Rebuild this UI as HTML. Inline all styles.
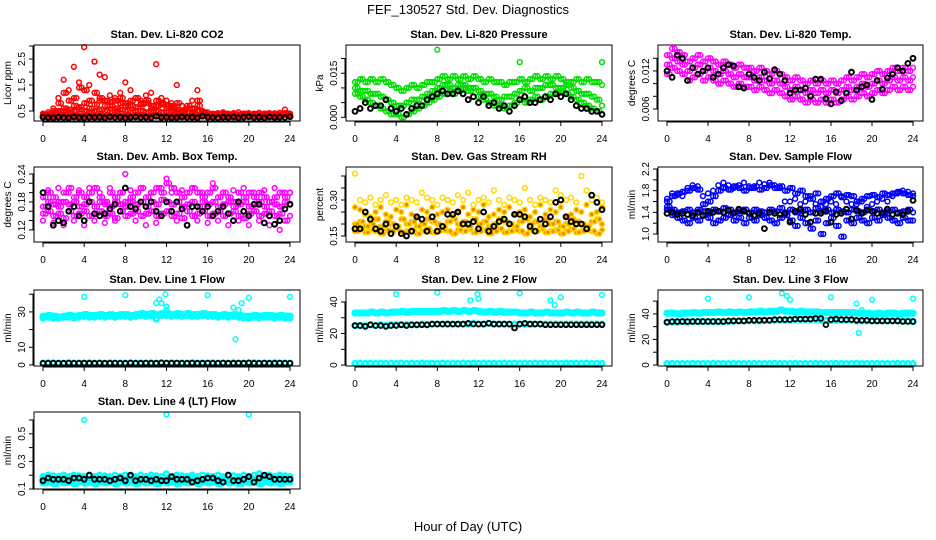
<!DOCTYPE html>
<html><head><meta charset="utf-8"><style>
html,body{margin:0;padding:0;background:#fff;}
svg{display:block;font-family:"Liberation Sans",sans-serif;}
</style></head><body>
<svg id="chart" width="936" height="540" viewBox="0 0 936 540" xmlns="http://www.w3.org/2000/svg">
<text x="468" y="14" text-anchor="middle" font-size="13">FEF_130527  Std. Dev. Diagnostics</text>
<text x="468" y="531" text-anchor="middle" font-size="13">Hour of Day (UTC)</text>
</svg>
<script>
const hours = [0,0.5,1,1.5,2,2.5,3,3.5,4,4.5,5,5.5,6,6.5,7,7.5,8,8.5,9,9.5,10,10.5,11,11.5,12,12.5,13,13.5,14,14.5,15,15.5,16,16.5,17,17.5,18,18.5,19,19.5,20,20.5,21,21.5,22,22.5,23,23.5,24];
const hoursOff = [0.25,0.75,1.25,1.75,2.25,2.75,3.25,3.75,4.25,4.75,5.25,5.75,6.25,6.75,7.25,7.75,8.25,8.75,9.25,9.75,10.25,10.75,11.25,11.75,12.25,12.75,13.25,13.75,14.25,14.75,15.25,15.75,16.25,16.75,17.25,17.75,18.25,18.75,19.25,19.75,20.25,20.75,21.25,21.75,22.25,22.75,23.25,23.75];
const xTicks = [0,4,8,12,16,20,24];

const co2A = [0.3,0.32,0.3,0.31,0.33,0.3,0.32,0.3,0.31,0.33,0.3,0.32,0.3,0.31,0.33,0.3,0.32,0.3,0.31,0.33,0.3,0.32,0.3,0.31,0.33,0.3,0.32,0.3,0.31,0.33,0.3,0.32,0.3,0.31,0.33,0.3,0.32,0.3,0.31,0.33,0.3,0.32,0.3,0.31,0.33,0.3,0.32,0.35,0.3];
const co2B = [0.35,0.38,0.42,0.5,0.6,0.55,0.7,0.65,0.8,0.6,0.75,0.9,0.7,0.85,0.6,0.8,0.7,0.9,0.65,0.75,0.8,0.6,0.7,0.75,0.6,0.7,0.55,0.5,0.6,0.45,0.7,0.4,0.36,0.38,0.37,0.4,0.36,0.38,0.37,0.4,0.36,0.38,0.37,0.4,0.36,0.38,0.37,0.42,0.36];
const co2C = [0.4,0.45,0.6,1.0,1.7,1.3,2.2,1.6,2.96,1.5,2.4,1.9,1.8,1.1,1.0,1.2,1.6,1.3,1.0,0.9,1.1,1.2,2.3,1.0,0.9,0.8,1.5,0.7,0.6,0.9,1.3,0.5,0.45,0.4,0.42,0.45,0.4,0.42,0.45,0.4,0.42,0.4,0.43,0.4,0.42,0.41,0.43,0.55,0.4];
const co2D = [0.33,0.35,0.5,0.8,1.2,0.9,1.0,1.4,1.3,0.9,1.2,1.0,0.9,0.7,0.9,1.0,0.8,0.7,1.0,0.8,0.9,0.7,0.9,0.8,0.7,0.6,0.8,0.5,0.7,0.6,0.9,0.45,0.38,0.35,0.36,0.38,0.35,0.37,0.36,0.38,0.35,0.37,0.36,0.38,0.35,0.37,0.36,0.4,0.35];
const co2E = [0.32,0.34,0.4,0.45,0.5,0.45,0.5,0.55,0.5,0.45,0.5,0.55,0.5,0.45,0.5,0.55,0.5,0.45,0.5,0.5,0.45,0.5,0.5,0.45,0.45,0.5,0.45,0.42,0.45,0.4,0.5,0.36,0.33,0.34,0.33,0.34,0.33,0.34,0.33,0.34,0.33,0.34,0.33,0.34,0.33,0.34,0.33,0.36,0.33];
const co2Black = [0.26,0.25,0.24,0.26,0.25,0.24,0.27,0.25,0.24,0.26,0.25,0.26,0.24,0.27,0.25,0.26,0.24,0.25,0.27,0.25,0.26,0.24,0.3,0.25,0.26,0.24,0.25,0.27,0.25,0.26,0.24,0.3,0.26,0.25,0.24,0.26,0.25,0.27,0.24,0.26,0.28,0.25,0.26,0.24,0.27,0.25,0.26,0.25,0.28];

const presA = [0.012,0.013,0.012,0.013,0.012,0.013,0.012,0.011,0.010,0.009,0.010,0.011,0.010,0.011,0.012,0.012,0.013,0.014,0.013,0.014,0.013,0.014,0.013,0.014,0.013,0.012,0.013,0.012,0.012,0.011,0.012,0.012,0.013,0.012,0.013,0.014,0.013,0.014,0.013,0.014,0.013,0.012,0.012,0.013,0.012,0.013,0.012,0.012,0.011];
const presB = [0.008,0.007,0.006,0.005,0.004,0.003,0.002,0.001,0.001,0.000,0.001,0.002,0.003,0.004,0.005,0.006,0.007,0.008,0.009,0.008,0.009,0.010,0.009,0.010,0.007,0.006,0.005,0.004,0.004,0.003,0.004,0.005,0.006,0.005,0.006,0.007,0.006,0.007,0.008,0.008,0.009,0.008,0.007,0.006,0.005,0.004,0.003,0.002,0.001];
const presC = [0.010,0.009,0.009,0.008,0.008,0.007,0.006,0.005,0.004,0.004,0.005,0.006,0.006,0.007,0.008,0.009,0.010,0.011,0.011,0.010,0.011,0.011,0.010,0.010,0.009,0.008,0.008,0.007,0.006,0.007,0.007,0.008,0.009,0.010,0.009,0.010,0.010,0.011,0.011,0.010,0.010,0.011,0.010,0.009,0.008,0.008,0.007,0.006,0.004];
const presBlack = [0.002,0.003,0.005,0.003,0.004,0.004,0.006,0.003,0.002,0.003,0.001,0.003,0.004,0.004,0.006,0.007,0.008,0.009,0.008,0.008,0.009,0.008,0.006,0.007,0.005,0.007,0.004,0.005,0.003,0.004,0.002,0.004,0.006,0.007,0.005,0.005,0.006,0.007,0.006,0.008,0.007,0.008,0.006,0.004,0.003,0.003,0.002,0.002,0.001];
const presOutX = [8,16,24];
const presOutY = [0.023,0.0188,0.0188];

const tempA = [0.013,0.014,0.0135,0.013,0.012,0.0125,0.013,0.012,0.0125,0.012,0.0115,0.012,0.0115,0.011,0.0115,0.011,0.011,0.0105,0.011,0.0105,0.01,0.0105,0.01,0.0095,0.009,0.0095,0.009,0.0085,0.009,0.0085,0.009,0.0085,0.009,0.0085,0.009,0.0095,0.009,0.0095,0.01,0.0095,0.01,0.0105,0.01,0.0105,0.011,0.0105,0.011,0.0105,0.011];
const tempB = [0.0145,0.0155,0.015,0.0145,0.0135,0.014,0.0145,0.0135,0.014,0.0135,0.013,0.0135,0.013,0.0125,0.013,0.0125,0.0125,0.012,0.0125,0.012,0.0115,0.012,0.0115,0.011,0.0105,0.011,0.0105,0.01,0.0105,0.01,0.0105,0.01,0.0105,0.01,0.0105,0.011,0.0105,0.011,0.0115,0.011,0.0115,0.012,0.0115,0.012,0.0125,0.012,0.0125,0.012,0.0125];
const tempC = [0.0115,0.0125,0.012,0.0115,0.0105,0.011,0.0115,0.0105,0.011,0.0105,0.01,0.0105,0.01,0.0095,0.01,0.0095,0.0095,0.009,0.0095,0.009,0.0085,0.009,0.0085,0.008,0.0075,0.008,0.0075,0.007,0.0075,0.007,0.0075,0.007,0.0075,0.007,0.0075,0.008,0.0075,0.008,0.0085,0.008,0.0085,0.009,0.0085,0.009,0.0095,0.009,0.0095,0.009,0.0095];
const tempBlack = [0.012,0.011,0.0145,0.014,0.0105,0.0125,0.0115,0.012,0.0125,0.011,0.0115,0.0125,0.013,0.0128,0.0095,0.0093,0.0115,0.011,0.0105,0.0118,0.0108,0.0122,0.0115,0.0105,0.0085,0.009,0.009,0.0093,0.008,0.0107,0.0107,0.0076,0.0068,0.0087,0.0073,0.0085,0.0118,0.009,0.0095,0.0098,0.0075,0.0105,0.0091,0.0109,0.0115,0.0125,0.012,0.0132,0.014];

const ambA = [0.19,0.2,0.19,0.18,0.2,0.21,0.19,0.2,0.19,0.2,0.21,0.19,0.18,0.2,0.19,0.2,0.18,0.19,0.2,0.21,0.19,0.2,0.21,0.2,0.22,0.21,0.2,0.19,0.2,0.21,0.2,0.19,0.2,0.21,0.19,0.2,0.19,0.18,0.2,0.19,0.2,0.19,0.2,0.19,0.18,0.19,0.2,0.19,0.2];
const ambB = [0.17,0.18,0.175,0.17,0.18,0.175,0.18,0.17,0.175,0.18,0.17,0.18,0.175,0.17,0.18,0.175,0.17,0.18,0.175,0.18,0.17,0.18,0.175,0.185,0.18,0.175,0.18,0.17,0.175,0.18,0.17,0.18,0.175,0.18,0.17,0.175,0.18,0.17,0.175,0.18,0.17,0.175,0.18,0.17,0.18,0.175,0.17,0.18,0.175];
const ambC = [0.155,0.16,0.15,0.155,0.145,0.16,0.15,0.155,0.16,0.15,0.155,0.16,0.15,0.155,0.145,0.16,0.15,0.155,0.16,0.15,0.155,0.16,0.15,0.155,0.16,0.15,0.155,0.145,0.16,0.15,0.155,0.16,0.15,0.155,0.16,0.15,0.155,0.16,0.15,0.145,0.155,0.16,0.15,0.155,0.16,0.15,0.155,0.14,0.15];
const ambD = [0.14,0.205,0.135,0.21,0.13,0.2,0.14,0.205,0.13,0.21,0.14,0.2,0.135,0.21,0.14,0.2,0.24,0.205,0.14,0.21,0.13,0.2,0.135,0.21,0.23,0.2,0.14,0.205,0.13,0.21,0.14,0.2,0.135,0.22,0.14,0.2,0.13,0.205,0.14,0.21,0.13,0.2,0.14,0.205,0.13,0.21,0.12,0.2,0.2];
const ambBlack = [0.2,0.17,0.13,0.14,0.135,0.16,0.17,0.15,0.14,0.18,0.155,0.15,0.155,0.165,0.175,0.16,0.21,0.17,0.165,0.18,0.17,0.18,0.16,0.15,0.18,0.16,0.18,0.165,0.13,0.17,0.17,0.16,0.17,0.15,0.16,0.17,0.155,0.14,0.18,0.16,0.15,0.175,0.175,0.135,0.15,0.132,0.14,0.165,0.175];

const rhA = [0.17,0.18,0.165,0.175,0.17,0.16,0.175,0.17,0.18,0.165,0.17,0.175,0.16,0.17,0.18,0.165,0.17,0.175,0.17,0.16,0.175,0.17,0.18,0.165,0.17,0.175,0.16,0.17,0.18,0.165,0.17,0.175,0.17,0.16,0.175,0.17,0.18,0.165,0.17,0.175,0.16,0.17,0.18,0.165,0.17,0.175,0.17,0.16,0.175];
const rhB = [0.2,0.21,0.19,0.2,0.22,0.19,0.21,0.2,0.19,0.22,0.2,0.21,0.19,0.2,0.22,0.21,0.2,0.19,0.21,0.22,0.2,0.21,0.19,0.22,0.2,0.21,0.19,0.2,0.22,0.21,0.2,0.19,0.21,0.22,0.2,0.21,0.19,0.22,0.2,0.21,0.19,0.2,0.22,0.21,0.2,0.19,0.21,0.22,0.2];
const rhC = [0.27,0.26,0.24,0.23,0.25,0.27,0.24,0.23,0.26,0.25,0.28,0.24,0.23,0.26,0.25,0.27,0.24,0.25,0.26,0.23,0.25,0.27,0.24,0.26,0.25,0.28,0.23,0.24,0.26,0.25,0.27,0.24,0.25,0.26,0.23,0.25,0.28,0.24,0.26,0.25,0.27,0.23,0.24,0.26,0.25,0.28,0.24,0.25,0.27];
const rhD = [0.41,0.3,0.29,0.31,0.28,0.3,0.32,0.29,0.3,0.28,0.31,0.3,0.29,0.33,0.31,0.3,0.28,0.31,0.3,0.29,0.32,0.3,0.33,0.28,0.3,0.31,0.29,0.34,0.3,0.28,0.31,0.3,0.29,0.35,0.3,0.28,0.31,0.3,0.29,0.34,0.32,0.3,0.31,0.29,0.4,0.34,0.3,0.31,0.29];
const rhBlack = [0.18,0.18,0.25,0.22,0.18,0.17,0.2,0.16,0.19,0.16,0.15,0.17,0.23,0.22,0.17,0.23,0.17,0.19,0.24,0.24,0.25,0.2,0.2,0.21,0.18,0.25,0.17,0.19,0.21,0.22,0.2,0.24,0.24,0.23,0.19,0.17,0.22,0.2,0.23,0.29,0.3,0.23,0.21,0.2,0.2,0.18,0.32,0.29,0.26];

const flowA = [1.45,1.35,1.3,1.25,1.2,1.3,1.25,1.35,1.3,1.2,1.25,1.3,1.35,1.25,1.3,1.2,1.3,1.25,1.35,1.3,1.25,1.2,1.3,1.35,1.25,1.15,1.3,1.2,1.1,1.25,1.0,1.2,1.3,1.15,0.95,1.25,1.2,1.3,1.25,1.2,1.3,1.25,1.35,1.3,1.25,1.2,1.3,1.25,1.25];
const flowB = [1.5,1.45,1.4,1.42,1.45,1.4,1.45,1.42,1.4,1.45,1.42,1.48,1.45,1.4,1.42,1.45,1.4,1.45,1.42,1.4,1.45,1.42,1.48,1.4,1.45,1.4,1.42,1.45,1.4,1.48,1.42,1.45,1.4,1.45,1.42,1.4,1.45,1.42,1.4,1.45,1.42,1.45,1.4,1.42,1.45,1.4,1.42,1.45,1.4];
const flowC = [1.6,1.7,1.75,1.78,1.8,1.85,1.82,1.55,1.6,1.7,1.8,1.85,1.82,1.88,1.85,1.8,1.85,1.88,1.82,1.85,1.9,1.85,1.88,1.8,1.85,1.75,1.8,1.7,1.65,1.75,1.6,1.65,1.7,1.75,1.68,1.72,1.7,1.6,1.65,1.7,1.72,1.68,1.75,1.72,1.75,1.78,1.75,1.72,1.7];
const flowD = [1.65,1.75,1.72,1.7,1.85,1.9,1.88,1.7,1.75,1.8,1.9,1.95,1.9,1.85,1.9,1.95,1.88,1.85,1.95,1.92,1.95,1.9,1.85,1.6,1.6,1.65,1.55,1.6,1.7,1.55,1.5,1.55,1.6,1.55,1.7,1.6,1.55,1.55,1.6,1.5,1.55,1.6,1.65,1.6,1.7,1.75,1.8,1.78,1.75];
const flowBlack = [1.38,1.4,1.36,1.38,1.36,1.34,1.4,1.34,1.42,1.4,1.42,1.4,1.44,1.38,1.46,1.42,1.38,1.34,1.38,1.1,1.4,1.38,1.36,1.38,1.22,1.42,1.46,1.36,1.22,1.38,1.38,1.42,1.22,1.36,1.38,1.46,1.28,1.44,1.38,1.44,1.42,1.38,1.38,1.46,1.36,1.38,1.36,1.42,1.62];

const lineLow = [1,1.2,1,1.1,1,1.2,1,1.1,1,1.2,1,1.1,1,1.2,1,1.1,1,1.2,1,1.1,1,1.2,1,1.1,1,1.2,1,1.1,1,1.2,1,1.1,1,1.2,1,1.1,1,1.2,1,1.1,1,1.2,1,1.1,1,1.2,1,1.1,1];
const line1A = [27.5,28,27.5,27,27.5,28,27.5,28,28.5,28,28,28.5,28,28.5,28,28.5,28.5,28,28.5,29,28.5,29,28.5,29,29,28.5,29,28.5,29,28.5,28.5,29,28.5,28.5,28,28.5,28,28.5,28,27.5,27.5,28,27.5,28,28,27.5,28,27.5,27.5];
const line1B = [26.5,27,26.5,26.5,27,27,26.5,27,27.5,27,27,27.5,27,27.5,27,27.5,27.5,27,27.5,28,27.5,28,26,28,28,27.5,28,27.5,28,27.5,27.5,28,27.5,27.5,27,27.5,27,27.5,27,26.5,26.5,27,26.5,27,27,26.5,27,26.5,26.5];
const line1Black = [1,1,1.1,1,1,1.1,1,1,1.1,1,1,1.1,1,1,1.1,1,1,1.1,1,1,1.1,1,1,1.2,1.1,1,1.1,1,1,1.1,1,1,1.1,1,1,1.1,1,1,1.1,1,1.2,1,1,1.1,1,1,1.1,1,1];
const line1OutX = [4,8,11,11.3,11.5,11.9,12,12,16,18.5,18.7,19,19.3,20,24];
const line1OutY = [38.5,39.5,35,37,35,40,33,31,39.5,32.5,14.5,31,35,38,38.5];

const line2A = [33,33,33,33.5,33,33.5,33,33.5,33.5,34,33.5,34,34,34,34,34,34,34.5,34,34.5,34,34.5,34,34.5,34,33.5,34,33.5,34,33.5,33.5,33.5,33,33,33.5,33,33,33.5,33,33,33,33.5,33,33.5,33,33,33.5,33,33];
const line2B = [25,25,25,25.5,25,25.5,25,25.5,25.5,25.5,25.5,25.5,25.5,26,25.5,26,26,26,26,26,26,26,26,26.5,26,26,26.5,26,26,26,26,26,26,26,26,26,26,26,26,26,26,26,26,26,26,26,26,26,26];
const line2Black = [25,25,24.5,25.5,25,25,24.5,25,25,25.5,25,25.5,25.5,25.5,25.5,26,26,26,26,26,26,26,26.5,26,26,26,26.5,26,26,26,26,23.5,26,26.5,26,26,26,25.5,25.5,25.5,25.5,25.5,25.5,25.5,25.5,25.5,25.5,25.5,25.5];
const line2OutX = [4,8,11.2,11.9,12,16,19,19.4,20,24];
const line2OutY = [45,46,41,45,42,45.5,41,38,43,44.5];

const line3A = [40.5,40.5,40,40.5,40.5,41,40.5,41,41,41,41.5,41,41.5,41,41.5,41,41.5,41.5,42,41.5,42,42,43,42,42,41.5,42,41.5,41.5,41.5,41,41,41,41,41,41,41,40.5,40.5,40.5,40,40.5,40,40.5,40.5,40,40.5,40.5,40.5];
const line3B = [33.5,33.5,33.5,34,33.5,34,34,34,34,34,34,34,34,34.5,34.5,34.5,34.5,34.5,34.5,35,35,35,35,35,35,35.5,35.5,35.5,35.5,35.5,35,35,35,35,35,35,35,34.5,34.5,34.5,34.5,34.5,34.5,34.5,34.5,34.5,34.5,34.5,34];
const line3Black = [33.5,34,34,34,34,34,34,34,34,34,34,34,34.5,34.5,34.5,34.5,35,35,35,35,35,35.5,35.5,35.5,35.5,36,36,36,36,36.5,36.5,31.5,35.5,36,35.5,35.5,35.5,35,35,35,34.5,34.5,34.5,34.5,34.5,34.5,34,34,34];
const line3OutX = [4,8,11.2,11.7,12,16,18.5,18.7,19,20,24];
const line3OutY = [52,53,56,54,51,53,48,25,43,51,52];

const line4A = [0.17,0.18,0.16,0.17,0.18,0.17,0.16,0.18,0.17,0.16,0.18,0.17,0.18,0.16,0.17,0.18,0.16,0.17,0.18,0.17,0.16,0.18,0.17,0.16,0.18,0.17,0.18,0.16,0.17,0.18,0.16,0.17,0.18,0.17,0.16,0.18,0.17,0.16,0.18,0.17,0.18,0.16,0.17,0.18,0.16,0.17,0.18,0.17,0.16];
const line4B = [0.145,0.15,0.14,0.155,0.145,0.15,0.14,0.155,0.145,0.15,0.14,0.155,0.145,0.15,0.14,0.155,0.145,0.15,0.14,0.155,0.145,0.15,0.14,0.155,0.145,0.15,0.14,0.155,0.145,0.15,0.14,0.155,0.145,0.15,0.14,0.155,0.145,0.15,0.14,0.155,0.145,0.15,0.14,0.155,0.145,0.15,0.14,0.155,0.15];
const line4C = [0.19,0.2,0.195,0.19,0.2,0.19,0.2,0.195,0.19,0.2,0.19,0.2,0.195,0.19,0.2,0.19,0.2,0.195,0.19,0.2,0.19,0.2,0.195,0.19,0.21,0.19,0.2,0.195,0.19,0.2,0.19,0.2,0.195,0.19,0.2,0.19,0.2,0.195,0.19,0.2,0.19,0.2,0.21,0.19,0.2,0.19,0.2,0.195,0.19];
const line4Black = [0.16,0.18,0.17,0.17,0.17,0.16,0.18,0.18,0.17,0.2,0.17,0.17,0.17,0.16,0.17,0.18,0.16,0.2,0.16,0.17,0.17,0.16,0.17,0.16,0.16,0.19,0.17,0.17,0.17,0.15,0.16,0.17,0.18,0.18,0.16,0.15,0.2,0.16,0.16,0.17,0.19,0.15,0.18,0.2,0.19,0.17,0.17,0.17,0.17];
const line4OutX = [4,12,20];
const line4OutY = [0.6,0.64,0.64];

const colBoxes = [[34,300],[346,612],[658,923]];
const rowBoxes = [[45,121],[167,242],[290,366],[412,489]];
const NS = "http://www.w3.org/2000/svg";
const svg = document.getElementById('chart');

function mk(tag, attrs, parent) {
  const e = document.createElementNS(NS, tag);
  for (const k in attrs) e.setAttribute(k, attrs[k]);
  parent.appendChild(e);
  return e;
}

function drawPanel(p) {
  const [L, R] = colBoxes[p.col];
  const [T, B] = rowBoxes[p.row];
  const x0 = L + 9, x24 = R - 10;
  const sx = v => x0 + v / 24 * (x24 - x0);
  const sy = v => B - (v - p.yb) / (p.yt - p.yb) * (B - T);
  const g = mk('g', {}, svg);
  
  
  const title = mk('text', {x: (L + R) / 2, y: T - 7, 'text-anchor': 'middle', 'font-size': 11, 'font-weight': 'bold'}, g);
  title.textContent = p.title;
  
  
  const ylab = mk('text', {x: 0, y: 0, 'text-anchor': 'middle', 'font-size': 10, transform: `translate(${L - 23},${(T + B) / 2}) rotate(-90)`}, g);
  ylab.textContent = p.ylab;
  
  
  p.series.forEach(s => {
    const sg = mk('g', {fill: s.fill || 'none', stroke: s.color, 'stroke-width': s.sw || 1.5}, g);
    
    
    const n = Math.min(s.xs.length, s.ys.length);
    for (let i = 0; i < n; i++) {
      const c = mk('circle', {cx: sx(s.xs[i]).toFixed(1), cy: sy(s.ys[i]).toFixed(1), r: 2.4}, sg);
      
      
    }
  });
  const box = mk('rect', {x: L, y: T, width: R - L, height: B - T, fill: 'none', stroke: '#000', 'stroke-width': 1}, g);
  
  
  const xa = mk('g', {}, g);
  
  
  mk('line', {x1: sx(0), x2: sx(24), y1: B + 1, y2: B + 1, stroke: '#000'}, xa);
  xTicks.forEach(t => {
    mk('line', {x1: sx(t), x2: sx(t), y1: B, y2: B + 5, stroke: '#000'}, xa);
    const tl = mk('text', {x: sx(t), y: B + 21, 'text-anchor': 'middle', 'font-size': 10}, xa);
    tl.textContent = t;
    
    
  });
  const ya = mk('g', {}, g);
  
  
  mk('line', {x1: L - 1, x2: L - 1, y1: sy(p.ticks[0]), y2: sy(p.ticks[p.ticks.length - 1]), stroke: '#000'}, ya);
  p.ticks.forEach(t => {
    mk('line', {x1: L - 5, x2: L, y1: sy(t), y2: sy(t), stroke: '#000'}, ya);
  });
  p.labels.forEach(t => {
    const tl = mk('text', {x: 0, y: 0, 'text-anchor': 'middle', 'font-size': 10, transform: `translate(${L - 9},${sy(parseFloat(t))}) rotate(-90)`}, ya);
    tl.textContent = t;
    
    
  });
}

const RED = '#ff0000', GRN = '#00e000', MAG = '#ff00ff', BLU = '#0000ff', CY = '#00ffff', YEL = '#ffd800', BLK = '#000000';
const panels = [
  {name: 'co2', col: 0, row: 0, title: 'Stan. Dev. Li-820 CO2', ylab: 'Licor ppm', yb: 0.115, yt: 3.04,
   ticks: [0.5,1,1.5,2,2.5,3], labels: ['0.5','1.5','2.5'],
   series: [{id:'red-a', xs:hours, ys:co2A, color:RED},{id:'red-a2', xs:hoursOff, ys:co2A, color:RED},{id:'red-b', xs:hours, ys:co2B, color:RED},{id:'red-b2', xs:hoursOff, ys:co2B, color:RED},{id:'red-c', xs:hours, ys:co2C, color:RED},{id:'red-d', xs:hours, ys:co2D, color:RED},{id:'red-d2', xs:hoursOff, ys:co2D, color:RED},{id:'red-e', xs:hours, ys:co2E, color:RED},{id:'red-e2', xs:hoursOff, ys:co2E, color:RED},{id:'black', xs:hours, ys:co2Black, color:BLK, sw:2}]},
  {name: 'pressure', col: 1, row: 0, title: 'Stan. Dev. Li-820 Pressure', ylab: 'kPa', yb: -0.00125, yt: 0.0246,
   ticks: [0,0.005,0.01,0.015,0.02], labels: ['0.000','0.015'],
   series: [{id:'green-a', xs:hours, ys:presA, color:GRN},{id:'green-a2', xs:hoursOff, ys:presA, color:GRN},{id:'green-b', xs:hours, ys:presB, color:GRN},{id:'green-b2', xs:hoursOff, ys:presB, color:GRN},{id:'green-c', xs:hours, ys:presC, color:GRN},{id:'green-c2', xs:hoursOff, ys:presC, color:GRN},{id:'green-outliers', xs:presOutX, ys:presOutY, color:GRN},{id:'black', xs:hours, ys:presBlack, color:BLK, sw:2}]},
  {name: 'li820-temp', col: 2, row: 0, title: 'Stan. Dev. Li-820 Temp.', ylab: 'degrees C', yb: 0.0041, yt: 0.0161,
   ticks: [0.006,0.008,0.01,0.012,0.014], labels: ['0.006','0.012'],
   series: [{id:'magenta-a', xs:hours, ys:tempA, color:MAG},{id:'magenta-a2', xs:hoursOff, ys:tempA, color:MAG},{id:'magenta-b', xs:hours, ys:tempB, color:MAG},{id:'magenta-b2', xs:hoursOff, ys:tempB, color:MAG},{id:'magenta-c', xs:hours, ys:tempC, color:MAG},{id:'magenta-c2', xs:hoursOff, ys:tempC, color:MAG},{id:'black', xs:hours, ys:tempBlack, color:BLK, sw:2}]},
  {name: 'amb-box-temp', col: 0, row: 1, title: 'Stan. Dev. Amb. Box Temp.', ylab: 'degrees C', yb: 0.094, yt: 0.255,
   ticks: [0.12,0.14,0.16,0.18,0.2,0.22,0.24], labels: ['0.12','0.18','0.24'],
   series: [{id:'magenta-a', xs:hours, ys:ambA, color:MAG},{id:'magenta-a2', xs:hoursOff, ys:ambA, color:MAG},{id:'magenta-b', xs:hours, ys:ambB, color:MAG},{id:'magenta-b2', xs:hoursOff, ys:ambB, color:MAG},{id:'magenta-c', xs:hours, ys:ambC, color:MAG},{id:'magenta-c2', xs:hoursOff, ys:ambC, color:MAG},{id:'magenta-d', xs:hours, ys:ambD, color:MAG},{id:'black', xs:hours, ys:ambBlack, color:BLK, sw:2}]},
  {name: 'gas-rh', col: 1, row: 1, title: 'Stan. Dev. Gas Stream RH', ylab: 'percent', yb: 0.125, yt: 0.4375,
   ticks: [0.15,0.2,0.25,0.3,0.35,0.4], labels: ['0.15','0.30'],
   series: [{id:'yellow-a', xs:hours, ys:rhA, color:YEL, fill:'#f08000'},{id:'yellow-a2', xs:hoursOff, ys:rhA, color:YEL, fill:'#f08000'},{id:'yellow-b', xs:hours, ys:rhB, color:YEL, fill:'#f08000'},{id:'yellow-b2', xs:hoursOff, ys:rhB, color:YEL, fill:'#f08000'},{id:'yellow-c', xs:hours, ys:rhC, color:YEL, fill:'#f08000'},{id:'yellow-d', xs:hours, ys:rhD, color:YEL},{id:'black', xs:hours, ys:rhBlack, color:BLK, sw:2}]},
  {name: 'sample-flow', col: 2, row: 1, title: 'Stan. Dev. Sample Flow', ylab: 'ml/min', yb: 0.853, yt: 2.237,
   ticks: [1.0,1.2,1.4,1.6,1.8,2.0,2.2], labels: ['1.0','1.4','1.8','2.2'],
   series: [{id:'blue-a', xs:hours, ys:flowA, color:BLU},{id:'blue-a2', xs:hoursOff, ys:flowA, color:BLU},{id:'blue-b', xs:hours, ys:flowB, color:BLU},{id:'blue-b2', xs:hoursOff, ys:flowB, color:BLU},{id:'blue-c', xs:hours, ys:flowC, color:BLU},{id:'blue-c2', xs:hoursOff, ys:flowC, color:BLU},{id:'blue-d', xs:hours, ys:flowD, color:BLU},{id:'black', xs:hours, ys:flowBlack, color:BLK, sw:2}]},
  {name: 'line1-flow', col: 0, row: 2, title: 'Stan. Dev. Line 1 Flow', ylab: 'ml/min', yb: -0.6, yt: 42.4,
   ticks: [0,10,20,30,40], labels: ['0','10','30'],
   series: [{id:'cyan-a', xs:hours, ys:line1A, color:CY, sw:2.5},{id:'cyan-a2', xs:hoursOff, ys:line1A, color:CY, sw:2.5},{id:'cyan-b', xs:hours, ys:line1B, color:CY, sw:2.5},{id:'cyan-low', xs:hours, ys:lineLow, color:CY, sw:2.5},{id:'cyan-outliers', xs:line1OutX, ys:line1OutY, color:CY},{id:'black', xs:hours, ys:line1Black, color:BLK, sw:1.8}]},
  {name: 'line2-flow', col: 1, row: 2, title: 'Stan. Dev. Line 2 Flow', ylab: 'ml/min', yb: -0.6, yt: 47.6,
   ticks: [0,10,20,30,40], labels: ['0','20','40'],
   series: [{id:'cyan-a', xs:hours, ys:line2A, color:CY, sw:2.5},{id:'cyan-a2', xs:hoursOff, ys:line2A, color:CY, sw:2.5},{id:'cyan-b', xs:hours, ys:line2B, color:CY, sw:2.5},{id:'cyan-low', xs:hours, ys:lineLow, color:CY, sw:2.5},{id:'cyan-outliers', xs:line2OutX, ys:line2OutY, color:CY},{id:'black', xs:hours, ys:line2Black, color:BLK, sw:1.8}]},
  {name: 'line3-flow', col: 2, row: 2, title: 'Stan. Dev. Line 3 Flow', ylab: 'ml/min', yb: -0.8, yt: 58.7,
   ticks: [0,10,20,30,40,50], labels: ['0','20','40'],
   series: [{id:'cyan-a', xs:hours, ys:line3A, color:CY, sw:2.5},{id:'cyan-a2', xs:hoursOff, ys:line3A, color:CY, sw:2.5},{id:'cyan-b', xs:hours, ys:line3B, color:CY, sw:2.5},{id:'cyan-low', xs:hours, ys:lineLow, color:CY, sw:2.5},{id:'cyan-outliers', xs:line3OutX, ys:line3OutY, color:CY},{id:'black', xs:hours, ys:line3Black, color:BLK, sw:1.8}]},
  {name: 'line4-flow', col: 0, row: 3, title: 'Stan. Dev. Line 4 (LT) Flow', ylab: 'ml/min', yb: 0.1, yt: 0.658,
   ticks: [0.1,0.2,0.3,0.4,0.5,0.6], labels: ['0.1','0.3','0.5'],
   series: [{id:'cyan-a', xs:hours, ys:line4A, color:CY, sw:2.5},{id:'cyan-a2', xs:hoursOff, ys:line4A, color:CY, sw:2.5},{id:'cyan-b', xs:hours, ys:line4B, color:CY, sw:2.5},{id:'cyan-b2', xs:hoursOff, ys:line4B, color:CY, sw:2.5},{id:'cyan-c', xs:hours, ys:line4C, color:CY, sw:2.5},{id:'cyan-outliers', xs:line4OutX, ys:line4OutY, color:CY},{id:'black', xs:hours, ys:line4Black, color:BLK, sw:2}]}
];
panels.forEach(drawPanel);
</script>
</body></html>
